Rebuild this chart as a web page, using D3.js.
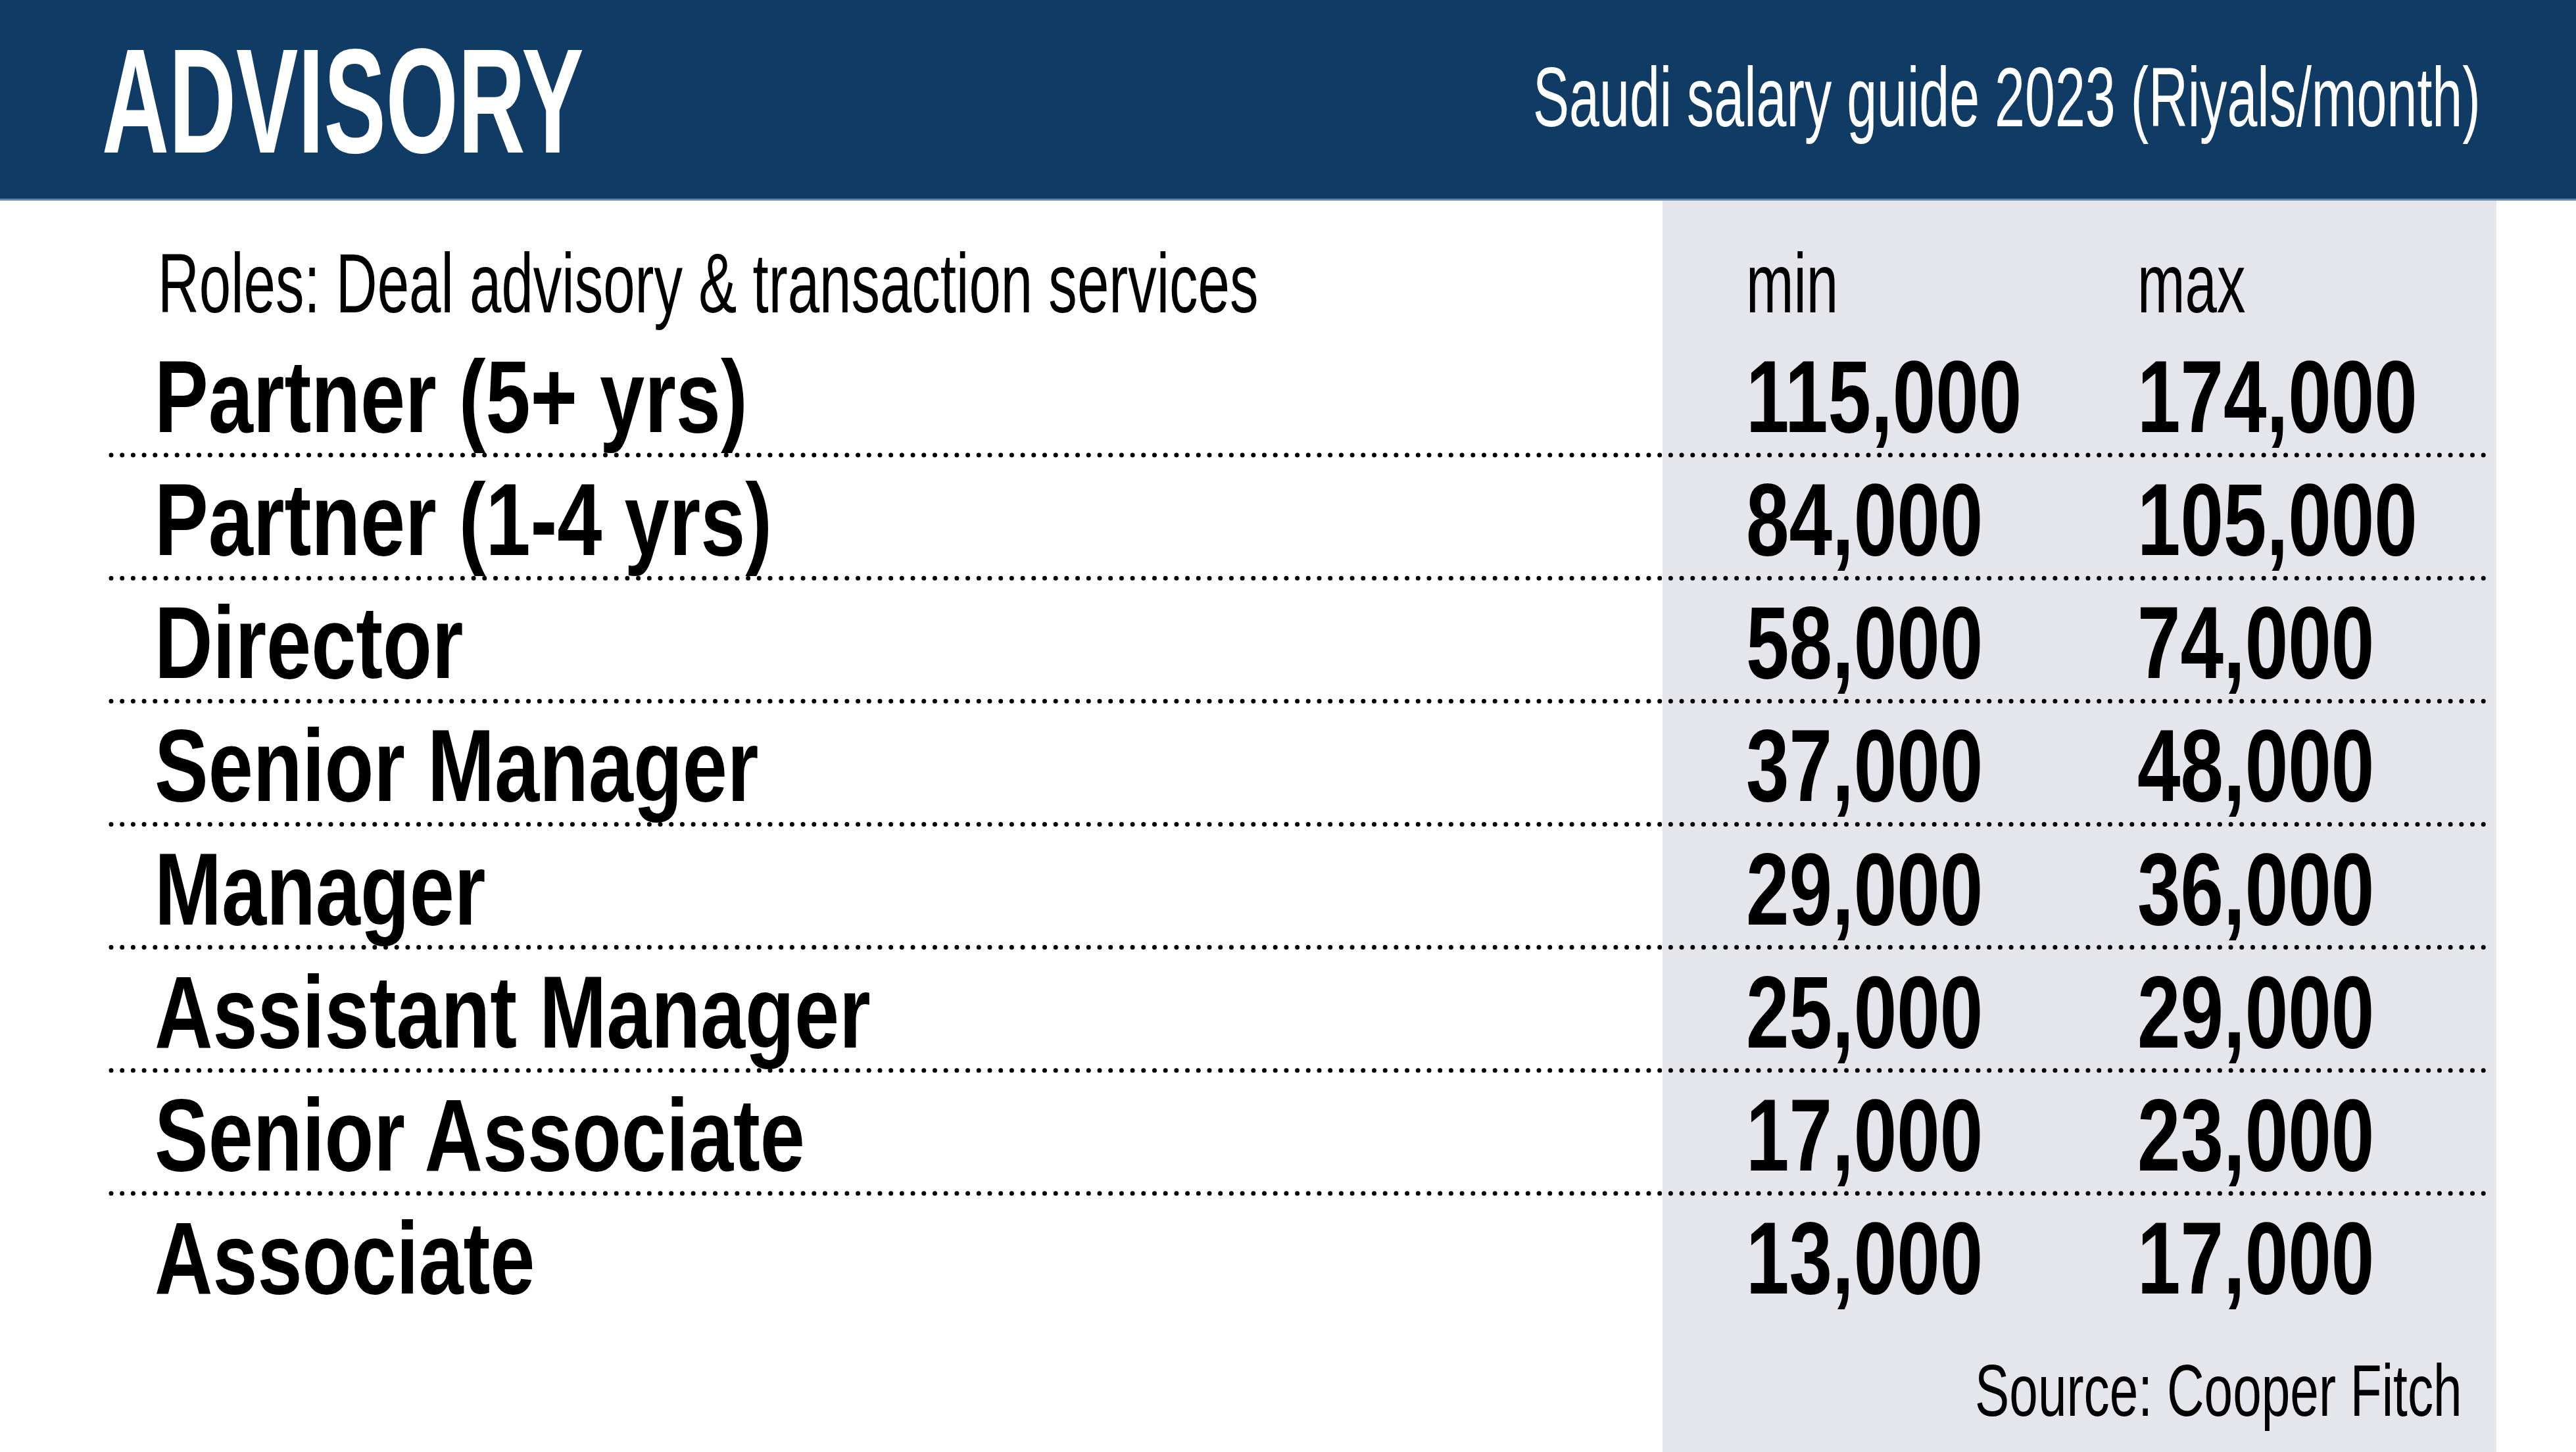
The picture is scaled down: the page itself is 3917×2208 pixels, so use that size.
<!DOCTYPE html>
<meta charset="utf-8">
<style>
body { margin: 0; background: #fff; }
text { font-family: "Liberation Sans", Arial, sans-serif; }
</style>
<body>
<script src="https://d3js.org/d3.v7.min.js"></script>
<script>

// table data
var title = "ADVISORY";
var subtitle = "Saudi salary guide 2023 (Riyals/month)";
var rowHeader = "Roles: Deal advisory & transaction services";
var columns = ["min", "max"];
var roles = ["Partner (5+ yrs)", "Partner (1-4 yrs)", "Director", "Senior Manager",
             "Manager", "Assistant Manager", "Senior Associate", "Associate"];
var minPay = [115000, 84000, 58000, 37000, 29000, 25000, 17000, 13000];
var maxPay = [174000, 105000, 74000, 48000, 36000, 29000, 23000, 17000];
var source = "Source: Cooper Fitch";

var width = 3917, height = 2208;
var headerH = 305;
var fmt = d3.format(",");

var svg = d3.select("body").append("svg")
    .attr("width", width)
    .attr("height", height);

// header band
svg.append("rect")
    .attr("x", 0).attr("y", 0)
    .attr("width", width).attr("height", headerH)
    .attr("fill", "#0f3b64");
svg.append("rect")
    .attr("x", 0).attr("y", headerH - 3)
    .attr("width", width).attr("height", 3)
    .attr("fill", "#5f86ac");

// grey band behind the numbers
var colX = d3.scalePoint().domain(columns).range([2655, 3250]);
svg.append("rect")
    .attr("x", 2528).attr("y", headerH)
    .attr("width", 3796 - 2528).attr("height", height - headerH)
    .attr("fill", "#e5e6eb");

// helper: condensed text by squeezing horizontally
function label(x, y, str, size, weight, sx, fill) {
    return svg.append("text")
        .attr("transform", "translate(" + x + "," + y + ") scale(" + sx + ",1)")
        .attr("font-size", size)
        .attr("font-weight", weight)
        .attr("fill", fill || "#000")
        .text(str);
}

label(155, 232, title, 226, "bold", 0.625, "#fff");
label(2331, 192, subtitle, 128, "normal", 0.645, "#fff");

label(240, 475, rowHeader, 128, "normal", 0.68);
columns.forEach(function(c) {
    label(colX(c), 475, c, 128, "normal", 0.68);
});

// rows
var y = d3.scalePoint().domain(roles).range([657, 1967]);
var rows = svg.selectAll("g.row")
    .data(roles)
    .enter()
    .append("g")
        .attr("class", "row");

rows.append("text")
    .attr("transform", function(d) { return "translate(235," + y(d) + ") scale(0.79,1)"; })
    .attr("font-size", 155)
    .attr("font-weight", "bold")
    .text(function(d) { return d; });

rows.append("text")
    .attr("transform", function(d) { return "translate(" + colX("min") + "," + y(d) + ") scale(0.76,1)"; })
    .attr("font-size", 155)
    .attr("font-weight", "bold")
    .text(function(d, i) { return fmt(minPay[i]); });

rows.append("text")
    .attr("transform", function(d) { return "translate(" + colX("max") + "," + y(d) + ") scale(0.76,1)"; })
    .attr("font-size", 155)
    .attr("font-weight", "bold")
    .text(function(d, i) { return fmt(maxPay[i]); });

// dotted rules between rows
rows.filter(function(d, i) { return i < roles.length - 1; })
    .append("line")
        .attr("x1", 169)
        .attr("x2", 3790)
        .attr("y1", function(d) { return y(d) + 35; })
        .attr("y2", function(d) { return y(d) + 35; })
        .attr("stroke", "#000")
        .attr("stroke-width", 7)
        .attr("stroke-linecap", "round")
        .attr("stroke-dasharray", "0,16.7");

label(3003, 2153, source, 112, "normal", 0.70);

</script>
</body>
